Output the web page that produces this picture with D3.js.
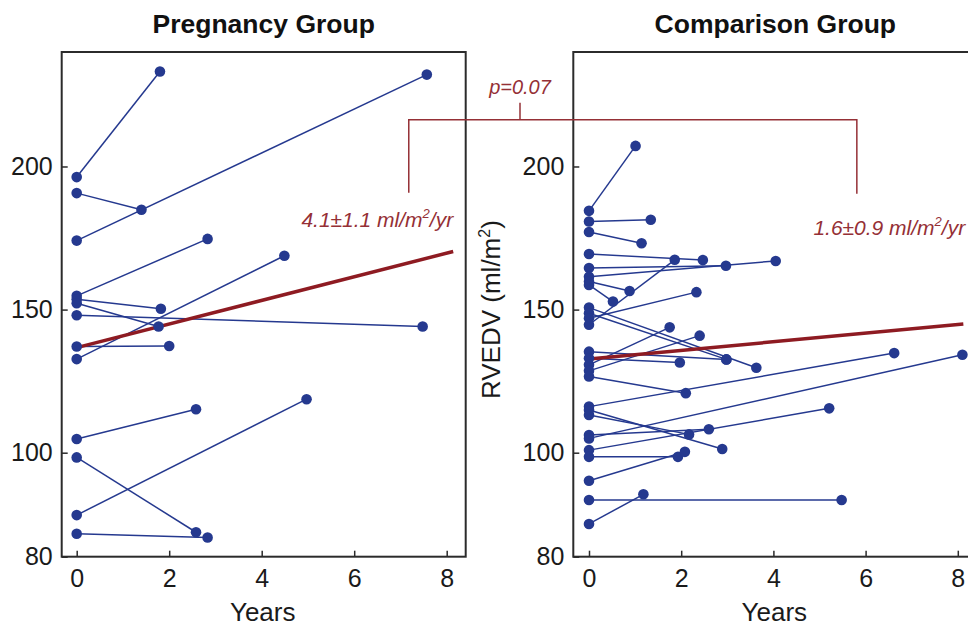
<!DOCTYPE html>
<html>
<head>
<meta charset="utf-8">
<script src="https://cdn.jsdelivr.net/npm/d3@7"></script>
<style>
  html, body { margin: 0; padding: 0; background: #ffffff; }
  svg { display: block; }
  text { font-family: "Liberation Sans", Arial, Helvetica, sans-serif; }
</style>
</head>
<body>
<svg id="chart" width="968" height="628"></svg>
<script>
// ---------------- DATA ----------------
const panelTitles = ["Pregnancy Group", "Comparison Group"];
const xTickValues = [0, 2, 4, 6, 8];
const yTickValues = [80, 100, 150, 200];

// Pregnancy group: each subject measured at year 0 and at a follow-up year
const pregStartValue = [196.3, 190.7, 174.1, 154.8, 153.6, 152.2, 148.0, 137.1, 132.7, 104.8, 99.1, 88.0, 84.4];
const pregEndYear    = [1.80, 1.40, 7.57, 2.83, 1.82, 1.77, 7.48, 2.00, 4.49, 2.58, 2.58, 4.97, 2.83];
const pregEndValue   = [233.2, 184.9, 232.1, 174.7, 150.3, 144.1, 144.1, 137.3, 168.8, 115.2, 84.7, 118.7, 83.7];

// Comparison group
const compStartValue = [184.5, 180.8, 177.1, 169.4, 164.5, 161.5, 159.8, 158.6,
                        150.7, 148.7, 147.0, 144.7,
                        135.3, 133.0, 130.7, 128.6, 126.6,
                        116.1, 114.9, 113.2, 106.2, 105.0, 100.9, 99.2, 94.6, 90.9, 86.3];
const compEndYear    = [1.01, 1.34, 1.14, 2.47, 2.97, 4.05, 0.88, 0.52,
                        3.63, 2.98, 2.33, 1.86,
                        2.98, 1.97, 1.75, 2.40, 2.10,
                        6.62, 2.89, 2.17, 2.60, 8.10, 5.21, 1.93, 2.08, 5.48, 1.18];
const compEndValue   = [207.2, 181.4, 173.2, 167.3, 165.3, 167.0, 156.5, 152.8,
                        129.7, 132.6, 156.1, 167.4,
                        132.6, 131.5, 143.8, 140.9, 120.8,
                        134.8, 101.3, 106.4, 108.2, 134.2, 115.5, 99.2, 100.3, 90.9, 92.0];

// Mean trend lines (year, value)
const pregTrendYears  = [0, 8.14];
const pregTrendValues = [136.7, 170.3];
const compTrendYears  = [0, 8.12];
const compTrendValues = [132.7, 145.0];

// Annotations
const slopeLabels = ["4.1\u00B11.1 ml/m", "1.6\u00B10.9 ml/m"];
const pLabel = "p=0.07";
const yAxisLabel = "RVEDV (ml/m";
const xAxisLabel = "Years";

// ---------------- LAYOUT ----------------
const svg = d3.select("#chart");
const blue = "#25398f";
const red = "#8e1b22";
const annoRed = "#953036";
const frameColor = "#2b2b2b";

const panelTop = 52, panelBottom = 556.7, panelWidth = 404;
const panelLefts = [61.7, 573.3];
const xZeroOffset = [15.0, 15.7];
const pxPerYear = [46.25, 46.1];

const y = d3.scaleLinear().domain([80, 100, 240]).range([panelBottom, 452.7, panelTop]);

function makeX(i) {
  const left = panelLefts[i];
  const d0 = -xZeroOffset[i] / pxPerYear[i];
  const d1 = d0 + panelWidth / pxPerYear[i];
  return d3.scaleLinear().domain([d0, d1]).range([left, left + panelWidth]);
}
const xs = [makeX(0), makeX(1)];

const groups = [
  { start: pregStartValue, endYear: pregEndYear, endValue: pregEndValue, tY: pregTrendYears, tV: pregTrendValues },
  { start: compStartValue, endYear: compEndYear, endValue: compEndValue, tY: compTrendYears, tV: compTrendValues }
];

groups.forEach((g, i) => {
  const x = xs[i];
  const left = panelLefts[i];
  const gp = svg.append("g");

  // frame
  gp.append("rect")
    .attr("x", left).attr("y", panelTop)
    .attr("width", panelWidth).attr("height", panelBottom - panelTop)
    .attr("fill", "none").attr("stroke", frameColor).attr("stroke-width", 2);

  // axes
  const yAxis = d3.axisLeft(y).tickValues(yTickValues).tickSizeInner(-6).tickSizeOuter(0).tickPadding(9);
  const ya = gp.append("g").attr("transform", `translate(${left},0)`).call(yAxis);
  ya.select(".domain").remove();
  ya.selectAll(".tick line").attr("stroke", frameColor).attr("stroke-width", 1.5);
  ya.selectAll(".tick text").attr("font-size", 25).attr("fill", "#1a1a1a")
    .attr("font-family", "'Liberation Sans', Arial, sans-serif");

  const xAxis = d3.axisBottom(x).tickValues(xTickValues).tickSizeInner(-6).tickSizeOuter(0).tickPadding(13);
  const xa = gp.append("g").attr("transform", `translate(0,${panelBottom})`).call(xAxis);
  xa.select(".domain").remove();
  xa.selectAll(".tick line").attr("stroke", frameColor).attr("stroke-width", 1.5);
  xa.selectAll(".tick text").attr("font-size", 25).attr("fill", "#1a1a1a")
    .attr("font-family", "'Liberation Sans', Arial, sans-serif");

  // title
  gp.append("text")
    .attr("x", left + panelWidth / 2).attr("y", 33)
    .attr("text-anchor", "middle").attr("font-size", 26.5).attr("font-weight", "bold")
    .attr("fill", "#111").text(panelTitles[i]);

  // x label
  gp.append("text")
    .attr("x", left + panelWidth / 2 - 1).attr("y", 621)
    .attr("text-anchor", "middle").attr("font-size", 26)
    .attr("fill", "#1a1a1a").text(xAxisLabel);

  // subject lines
  const segs = g.start.map((v, k) => [[0, v], [g.endYear[k], g.endValue[k]]]);
  const line = d3.line().x(d => x(d[0])).y(d => y(d[1]));
  gp.append("g").selectAll("path").data(segs).join("path")
    .attr("d", line).attr("fill", "none").attr("stroke", blue).attr("stroke-width", 1.5);

  // trend line
  const trend = g.tY.map((t, k) => [t, g.tV[k]]);
  gp.append("path").attr("d", line(trend)).attr("fill", "none")
    .attr("stroke", red).attr("stroke-width", 3.5);

  // points
  const pts = [];
  segs.forEach(s => { pts.push(s[0]); pts.push(s[1]); });
  gp.append("g").selectAll("circle").data(pts).join("circle")
    .attr("cx", d => x(d[0])).attr("cy", d => y(d[1])).attr("r", 5.3)
    .attr("fill", blue);
});

// y axis label on right panel
const yl = svg.append("text")
  .attr("transform", `translate(500,${y(150)}) rotate(-90)`)
  .attr("text-anchor", "middle").attr("font-size", 26).attr("fill", "#1a1a1a");
yl.append("tspan").text(yAxisLabel);
yl.append("tspan").attr("font-size", 16).attr("dy", -10).text("2");
yl.append("tspan").attr("dy", 10).text(")");

// bracket annotation
const bracketTopV = 216.3, bracketLeftBottomV = 190.8, bracketRightBottomV = 190.5;
const bracketLeftYear = 7.18, bracketRightYear = 5.81;
const bxL = xs[0](bracketLeftYear), bxR = xs[1](bracketRightYear);
const byT = y(bracketTopV);
const bracket = d3.path();
bracket.moveTo(bxL, y(bracketLeftBottomV));
bracket.lineTo(bxL, byT);
bracket.lineTo(bxR, byT);
bracket.lineTo(bxR, y(bracketRightBottomV));
svg.append("path").attr("d", bracket.toString()).attr("fill", "none")
  .attr("stroke", annoRed).attr("stroke-width", 1.5);
svg.append("line").attr("x1", 520).attr("x2", 520).attr("y1", byT).attr("y2", byT - 17)
  .attr("stroke", annoRed).attr("stroke-width", 1.5);
svg.append("text").attr("x", 520).attr("y", 94).attr("text-anchor", "middle")
  .attr("font-size", 20).attr("font-style", "italic").attr("fill", annoRed).text(pLabel);

// slope labels
const slopePos = [[xs[0](8.14), y(178.8)], [xs[1](8.16), y(176.0)]];
slopeLabels.forEach((s, i) => {
  const t = svg.append("text").attr("x", slopePos[i][0]).attr("y", slopePos[i][1])
    .attr("text-anchor", "end").attr("font-size", 21).attr("font-style", "italic").attr("fill", annoRed);
  t.append("tspan").text(s);
  t.append("tspan").attr("font-size", 13).attr("dy", -9).text("2");
  t.append("tspan").attr("dy", 9).text("/yr");
});
</script>
</body>
</html>
